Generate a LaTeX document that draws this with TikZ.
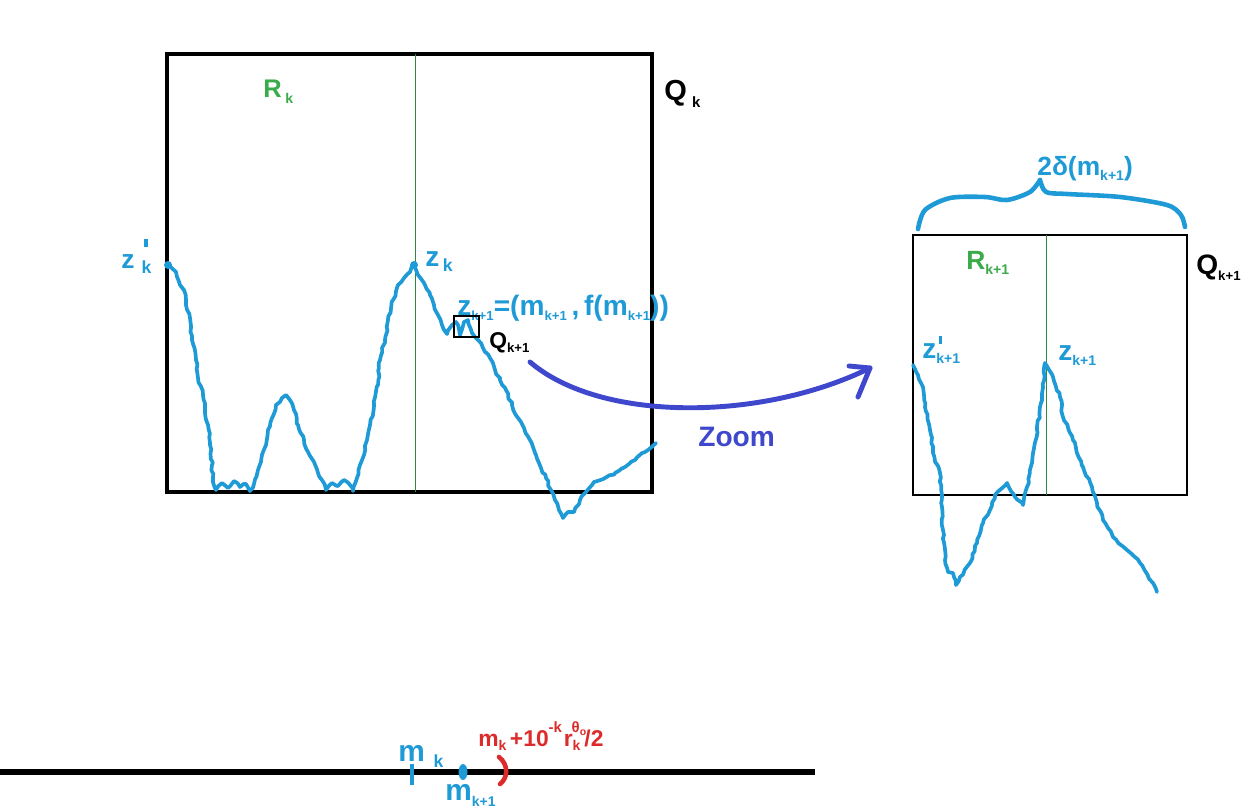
\documentclass[tikz,border=0pt]{standalone}
\usepackage{fontspec}
\setmainfont{Liberation Sans}
\usetikzlibrary{decorations.pathmorphing}
\definecolor{cblue}{HTML}{1E9AD6}
\definecolor{cgreen}{HTML}{3AAA4A}
\definecolor{lgreen}{HTML}{2E8B3E}
\definecolor{cind}{HTML}{3F48CC}
\definecolor{cred}{HTML}{DD2A2A}
\newcommand{\sbs}[2][6]{\raisebox{-0.4ex}{\fontsize{#1}{#1}\selectfont #2}}
\newcommand{\sps}[2][6]{\raisebox{1.1ex}{\fontsize{#1}{#1}\selectfont #2}}
\newcommand{\tickprime}[1][1.25ex]{\rlap{\hspace{1.5pt}\rule[#1]{1.9pt}{4.6pt}}}
\begin{document}
\begin{tikzpicture}[x=0.02cm,y=-0.02cm,
  lbl/.style={inner sep=0pt, anchor=base west, font=\bfseries},
  curve/.style={cblue, line width=2.1pt, line join=round, line cap=round,
    decorate, decoration={random steps, segment length=2.5pt, amplitude=0.6pt}},
  sq/.style={draw=black, line width=2.8pt},
  thinbox/.style={draw=black, line width=0.6pt},
  midline/.style={draw=lgreen, line width=0.5pt}]
\useasboundingbox (0,0) rectangle (1255,811);
\pgfmathsetseed{7}

% big square Q_k
\draw[sq] (167,54) rectangle (652,492);
\draw[midline] (415,54) -- (415,492);
\node[lbl, text=cgreen, font=\bfseries\fontsize{14.5}{15}\selectfont] (Rk) at (263,98) {R\hspace{2pt}\sbs[8]{k}};
\node[lbl, font=\bfseries\fontsize{16.5}{17}\selectfont] (Qk) at (664,101) {Q\hspace{3pt}\sbs[8.5]{k}};

% main curve
\draw[curve] plot coordinates {(168,265) (176,272) (180,285) (184,290) (186,305) (190,318) (192,340) (196,360) (198,378) (203,395) (205,410) (208,425) (210,445) (212,465) (213,478) (216,490) (222,483) (228,488) (234,481) (240,487) (246,484) (250,491) (254,484) (258,470) (262,455) (266,445) (268,430) (272,418) (276,405) (282,398) (286,395) (290,400) (294,410) (298,425) (304,440) (308,452) (314,462) (318,473) (322,480) (326,490) (332,483) (338,486) (344,480) (350,485) (353,491) (357,478) (360,465) (364,455) (367,440) (370,425) (374,405) (378,385) (380,360) (385,340) (388,320) (393,300) (398,285) (404,278) (410,272) (414,265) (418,275) (425,285) (430,295) (434,305) (438,315) (442,325) (447,334) (452,325) (456,322) (460,335) (464,322) (468,320) (472,333) (478,340) (483,348) (490,358) (495,370) (500,380) (506,390) (512,405) (518,418) (524,428) (530,440) (536,455) (541,468) (546,478) (551,490) (555,500) (559,510) (563,518) (568,512) (574,512) (580,500) (586,492) (594,482) (605,478) (615,473) (625,467) (635,460) (645,452) (656,443)};
\fill[cblue] (168,265) circle (4);
\fill[cblue] (414,265) circle (4);

\node[lbl, text=cblue, font=\bfseries\fontsize{15}{15}\selectfont] (zpk) at (121,268) {z\hspace{4pt}\tickprime[1.5ex]\sbs[10]{k}};
\node[lbl, text=cblue, font=\bfseries\fontsize{16}{16}\selectfont] (zk) at (425,266) {z\hspace{2pt}\sbs[10]{k}};
\node[lbl, text=cblue, font=\bfseries\fontsize{16}{16}\selectfont] (zk1) at (457,315) {z\sbs[7.5]{k+1}=(m\sbs[7.5]{k+1}\,,\,f(m\sbs[7.5]{k+1}))};

% small box Q_{k+1}
\draw[thinbox] (454,316) rectangle (479,337);
\node[lbl, font=\bfseries\fontsize{13}{13}\selectfont] (Qk1) at (489,348) {Q\sbs[7.5]{k+1}};

% zoom arrow
\coordinate (za) at (530,362);
\coordinate (zb) at (870,368);
\draw[cind, line width=2.8pt, line cap=round, line join=round] (za) .. controls (600,422) and (760,422) .. (zb);
\draw[cind, line width=2.8pt, line cap=round, line join=round] (849,366) -- (zb) -- (858,397);
\node[lbl, text=cind, font=\bfseries\fontsize{16}{16}\selectfont] (zoom) at (698,446) {Zoom};

% zoomed box
\draw[thinbox] (913,235) rectangle (1187,495);
\draw[midline] (1046,235) -- (1046,495);
\node[lbl, text=cgreen, font=\bfseries\fontsize{15}{15}\selectfont] (Rk1) at (966,269) {R\sbs[8]{k+1}};
\node[lbl, font=\bfseries\fontsize{16}{16}\selectfont] (Qk1r) at (1196,275) {Q\sbs[7.5]{k+1}};
\node[lbl, text=cblue, font=\bfseries\fontsize{16}{16}\selectfont] (zpk1) at (922,358) {z\tickprime[0.95ex]\sbs[8]{k+1}};
\node[lbl, text=cblue, font=\bfseries\fontsize{16}{16}\selectfont] (zk1r) at (1058,360) {z\sbs[8]{k+1}};

% brace
\draw[cblue, line width=2.6pt, line cap=round, line join=round] plot[smooth] coordinates {(918,229) (925,210) (950,198) (985,197) (1007,200) (1030,192) (1040,180)};
\draw[cblue, line width=2.6pt, line cap=round, line join=round] plot[smooth] coordinates {(1040,180) (1046,192) (1067,194) (1120,197) (1167,205) (1181,215) (1185,227)};
\node[lbl, text=cblue, font=\bfseries\fontsize{15}{15}\selectfont] (delta) at (1037,175) {2δ(m\sbs[8]{k+1})};

% zoomed curve
\draw[curve] plot coordinates {(913,365) (918,375) (923,387) (925,407) (930,430) (933,453) (940,473) (942,507) (943,530) (945,560) (948,572) (953,573) (956,585) (960,577) (970,563) (977,543) (983,523) (990,510) (995,495) (1007,483) (1015,497) (1023,505) (1027,487) (1032,463) (1037,430) (1042,397) (1045,363) (1053,377) (1060,397) (1063,417) (1073,440) (1083,467) (1092,487) (1097,503) (1103,520) (1113,537) (1127,550) (1140,563) (1153,583) (1157,592)};

% number line
\draw[black, line width=3.4pt] (0,772) -- (815,772);
\draw[cblue, line width=2.6pt] (412,764) -- (412,785);
\fill[cblue] (463,772) ellipse (4.5 and 8);
\node[lbl, text=cblue, font=\bfseries\fontsize{17}{17}\selectfont] (mk) at (398,761) {m\hspace{5pt}\sbs[10]{k}};
\node[lbl, text=cblue, font=\bfseries\fontsize{17}{17}\selectfont] (mk1) at (445,800) {m\sbs[8]{k+1}};
\draw[cred, line width=2.6pt, line cap=round] (499,757) .. controls (509,765) and (508,778) .. (500,784);
\node[lbl, text=cred, font=\bfseries\fontsize{13}{13}\selectfont] (red) at (478,746) {m\sbs[8]{k}\hspace{2pt}+10\sps[8.5]{-k}\hspace{1pt}r\sbs[8]{k}\hspace{-5pt}\sps[8.5]{θ\raisebox{-0.3ex}{\fontsize{6}{6}\selectfont o}}\hspace{-1pt}/2};
\end{tikzpicture}
\end{document}
